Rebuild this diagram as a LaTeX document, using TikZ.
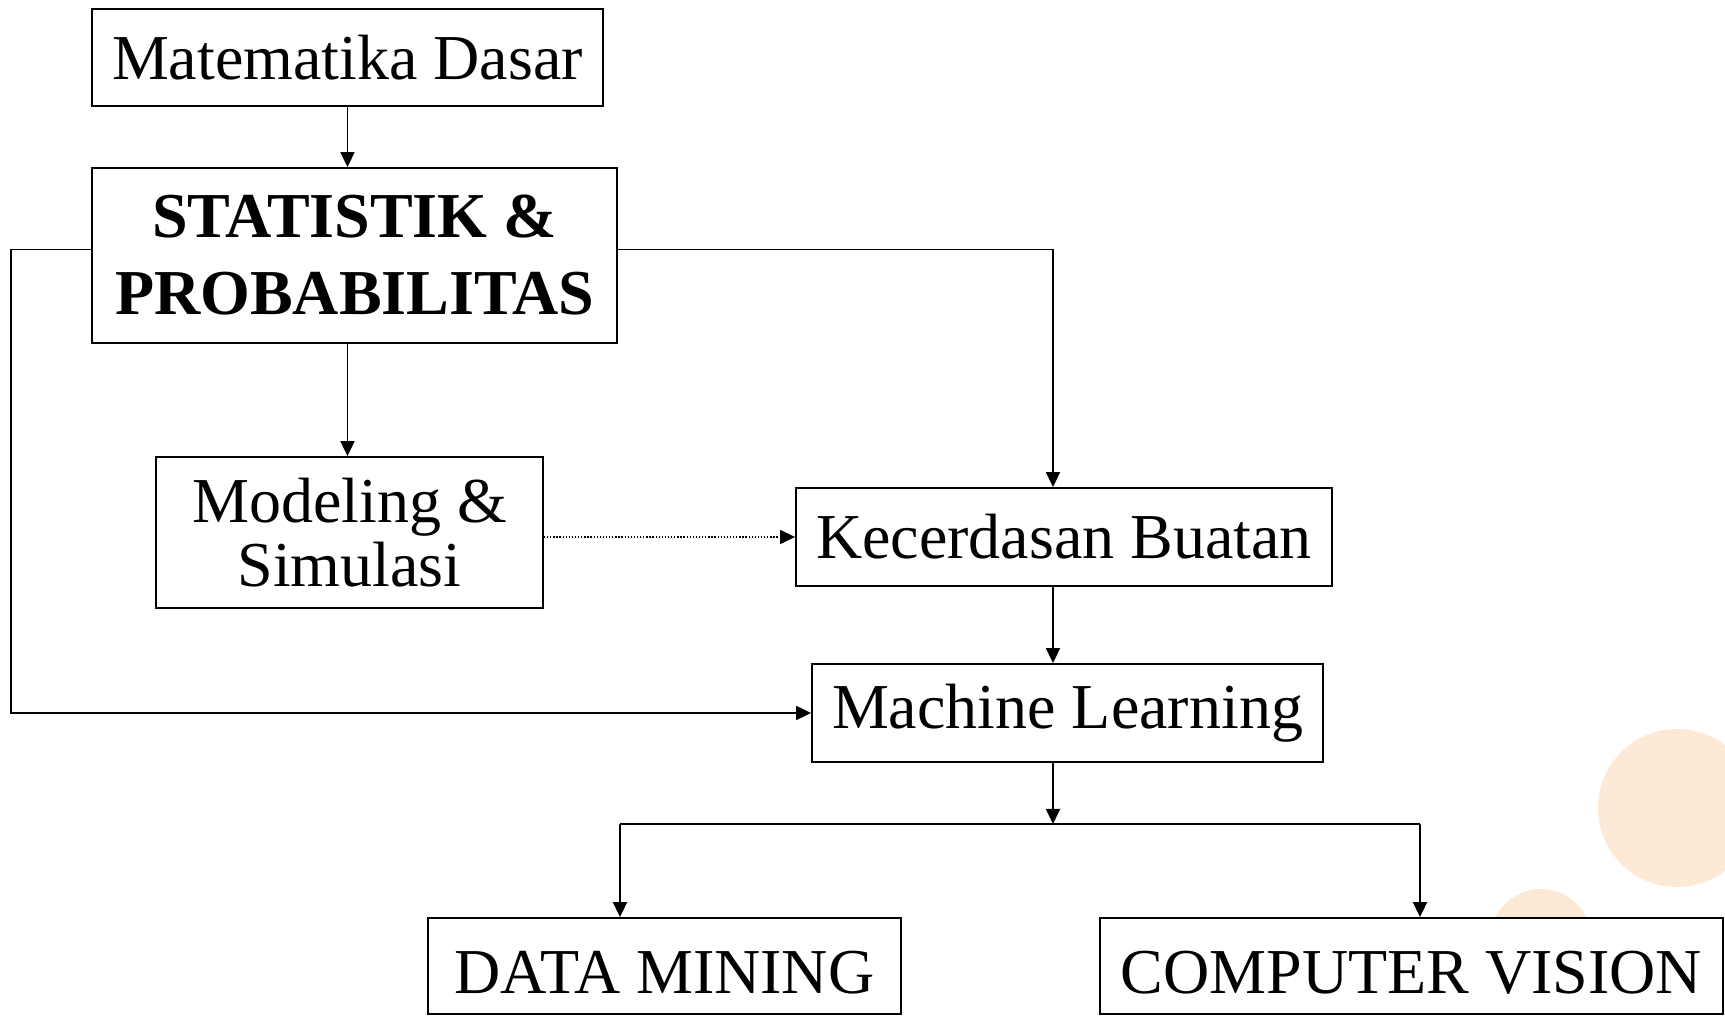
\documentclass[tikz,border=0pt]{standalone}
\usepackage{fontspec}
\setmainfont{Liberation Serif}
\usetikzlibrary{positioning,calc,arrows.meta,backgrounds}

\definecolor{peach}{RGB}{253,233,213}

\begin{document}
\begin{tikzpicture}[
    x=1pt, y=1pt,
    box/.style={draw, line width=1.8pt, fill=white, inner sep=0pt, align=center, font=\fontsize{64}{77}\selectfont},
    arr/.style={-{Triangle[length=15pt,width=14pt]}, line width=1.8pt},
    dotarr/.style={arr, line width=1.3pt, dash pattern=on 1.3pt off 1.8pt},
    blob/.style={fill=peach, draw=none}
]
\useasboundingbox (0,0) rectangle (1725,1016);

% Top: basics
\node[box, minimum width=511pt, minimum height=97pt] (mat) at (347.5,958.5) {Matematika Dasar};
\node[box, font=\fontsize{64}{77}\selectfont\bfseries, minimum width=525pt, minimum height=175pt] (stat) at (354.5,760.5) {STATISTIK \&\\PROBABILITAS};
\node[box, minimum width=387pt, minimum height=151pt] (mod) at (349.5,483.5) {Modeling \&\\[-13pt]Simulasi};

% Right column: AI and ML
\node[box, minimum width=536pt, minimum height=98pt] (kec) at (1064,479) {Kecerdasan Buatan};
\node[box, minimum width=511pt, minimum height=98pt] (ml) at (1067.5,303) {Machine Learning};

% Bottom row: applications
\node[box, text height=56pt, minimum width=473pt, minimum height=96pt] (dm) at (664.5,50) {DATA MINING};
\node[box, text height=56pt, minimum width=623pt, minimum height=96pt] (cv) at (1411.5,50) {COMPUTER VISION};

% Decoration
\begin{scope}[on background layer]
\fill[blob] (1677,208) circle (79);
\fill[blob] (1541,76) circle (51);
\end{scope}

% Arrows
\coordinate (spine) at (1053,0);
\coordinate (split) at (1053,192);
\coordinate (leftbar) at (620,192);
\coordinate (rightbar) at (1420,192);

\draw[arr] (mat.south) -- (mat.south |- stat.north);
\draw[arr] (mat.south |- stat.south) -- (mat.south |- mod.north);
\draw[arr] ([yshift=6pt]stat.east) -| (spine |- kec.north);
\draw[arr] ([yshift=6pt]stat.west) -- ++(-80,0) |- (ml.west);
\draw[dotarr] (mod.east |- kec.west) -- (kec.west);
\draw[arr] (spine |- kec.south) -- (spine |- ml.north);
\draw[arr] (spine |- ml.south) -- (split);
\draw[line width=1.8pt] (leftbar) -- (rightbar);
\draw[arr] (leftbar) -- (leftbar |- dm.north);
\draw[arr] (rightbar) -- (rightbar |- cv.north);

\end{tikzpicture}
\end{document}
